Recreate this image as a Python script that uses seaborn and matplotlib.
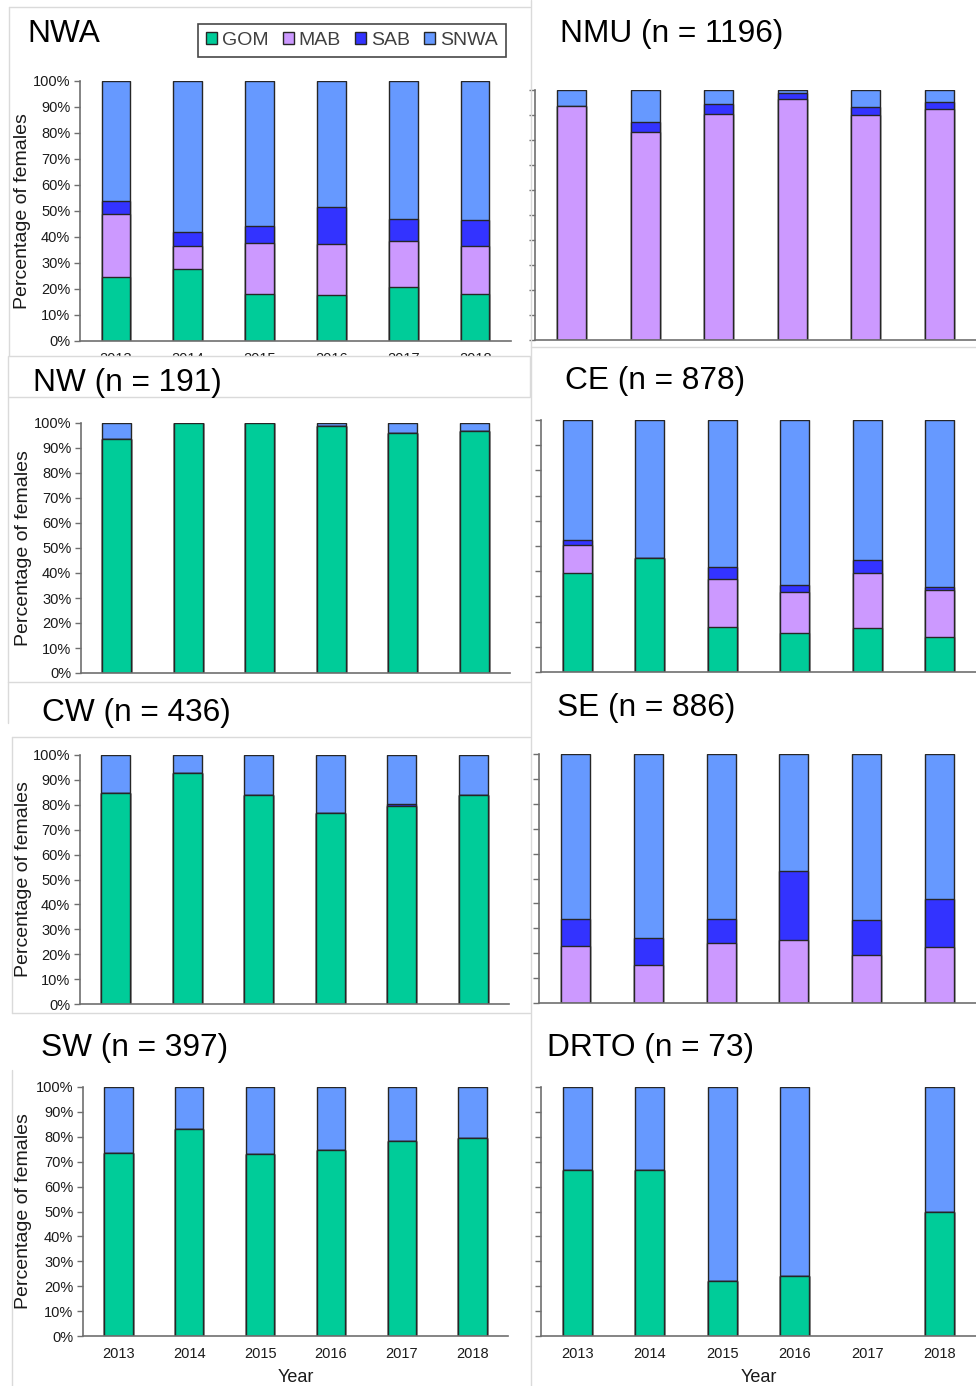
import matplotlib
matplotlib.use("Agg")
import matplotlib.pyplot as plt
import seaborn as sns
import numpy as np
import pandas as pd
from matplotlib.patches import Rectangle, Patch
from matplotlib.lines import Line2D

sns.set_theme(style="white")
plt.rcParams['font.family'] = ['Liberation Sans', 'DejaVu Sans']

W, H = 976, 1386

years = ["2013", "2014", "2015", "2016", "2017", "2018"]
stocks = ["GOM", "MAB", "SAB", "SNWA"]
stock_colors = {"GOM": "#00CC99", "MAB": "#CC99FF", "SAB": "#3333FF", "SNWA": "#6699FF"}

# Percentage of females assigned to each source stock, per year
nwa_gom = [24.5, 27.6, 18.2, 17.6, 20.6, 18.2]
nwa_mab = [24.5, 8.8, 19.4, 19.6, 17.7, 18.5]
nwa_sab = [4.8, 5.7, 6.5, 14.2, 8.5, 9.7]
nwa_snwa = [46.2, 57.9, 55.9, 48.6, 53.2, 53.6]

nmu_gom = [0, 0, 0, 0, 0, 0]
nmu_mab = [93.6, 83.3, 90.4, 96.4, 90.0, 92.5]
nmu_sab = [0, 4.1, 4.0, 2.4, 3.3, 2.7]
nmu_snwa = [6.4, 12.6, 5.6, 1.2, 6.7, 4.8]

nw_gom = [93.5, 100, 100, 98.7, 96.0, 96.9]
nw_mab = [0, 0, 0, 0, 0, 0]
nw_sab = [0, 0, 0, 0, 0, 0]
nw_snwa = [6.5, 0, 0, 1.3, 4.0, 3.1]

ce_gom = [39.2, 45.2, 18.0, 15.5, 17.6, 13.8]
ce_mab = [11.1, 0, 18.8, 16.4, 21.5, 18.7]
ce_sab = [2.2, 0, 4.7, 2.7, 5.3, 1.4]
ce_snwa = [47.5, 54.8, 58.5, 65.4, 55.6, 66.1]

cw_gom = [84.7, 92.8, 84.1, 76.7, 79.5, 83.8]
cw_mab = [0, 0, 0, 0, 0, 0]
cw_sab = [0, 0, 0, 0, 0.8, 0]
cw_snwa = [15.3, 7.2, 15.9, 23.3, 19.7, 16.2]

se_gom = [0, 0, 0, 0, 0, 0]
se_mab = [22.9, 15.4, 24.1, 25.3, 19.3, 22.5]
se_sab = [11.0, 10.7, 9.6, 27.7, 14.0, 19.1]
se_snwa = [66.1, 73.9, 66.3, 47.0, 66.7, 58.4]

sw_gom = [73.4, 83.0, 73.0, 74.6, 78.2, 79.4]
sw_mab = [0, 0, 0, 0, 0, 0]
sw_sab = [0, 0, 0, 0, 0, 0]
sw_snwa = [26.6, 17.0, 27.0, 25.4, 21.8, 20.6]

drto_gom = [66.7, 66.7, 22.2, 24.0, np.nan, 50.0]
drto_mab = [0, 0, 0, 0, np.nan, 0]
drto_sab = [0, 0, 0, 0, np.nan, 0]
drto_snwa = [33.3, 33.3, 77.8, 76.0, np.nan, 50.0]

panel_titles = ["NWA", "NMU (n = 1196)", "NW (n = 191)", "CE (n = 878)",
                "CW (n = 436)", "SE (n = 886)", "SW (n = 397)", "DRTO (n = 73)"]
panel_data = [
    (nwa_gom, nwa_mab, nwa_sab, nwa_snwa),
    (nmu_gom, nmu_mab, nmu_sab, nmu_snwa),
    (nw_gom, nw_mab, nw_sab, nw_snwa),
    (ce_gom, ce_mab, ce_sab, ce_snwa),
    (cw_gom, cw_mab, cw_sab, cw_snwa),
    (se_gom, se_mab, se_sab, se_snwa),
    (sw_gom, sw_mab, sw_sab, sw_snwa),
    (drto_gom, drto_mab, drto_sab, drto_snwa),
]

# Layout in pixels: axes (left, right, top=100%, bottom=0%), title anchor (x, y)
boxes = [
    (80, 511, 81, 341), (535, 976, 90, 340),
    (81, 510, 423, 673), (541, 976, 420, 672),
    (80, 509, 755, 1004), (539, 976, 754, 1003),
    (83, 508, 1087, 1336), (541, 976, 1087, 1336),
]
title_pos = [(27, 34), (560, 34), (33, 383), (565, 381),
             (42, 713), (557, 708), (41, 1048), (547, 1048)]

fig = plt.figure(figsize=(W / 100, H / 100), dpi=100)
fig.patch.set_facecolor("white")

AXIS_GRAY = "#6f6f6f"
BORDER = "#dadada"


def fx(x):
    return x / W


def fy(y):
    return 1 - y / H


def gray_line(x0, y0, x1, y1):
    fig.add_artist(Line2D([fx(x0), fx(x1)], [fy(y0), fy(y1)], transform=fig.transFigure,
                          color=BORDER, lw=1.0, zorder=0.5))


for i, (vals, (l, r, t, b)) in enumerate(zip(panel_data, boxes)):
    ax = fig.add_axes([fx(l), fy(b), (r - l) / W, (b - t) / H])
    df = pd.DataFrame({"year": years})
    running = np.zeros(len(years))
    for s, v in zip(stocks, vals):
        running = running + np.array(v, dtype=float)
        df[s] = running
    # Stacked bars: draw cumulative totals from the top segment down
    for s in reversed(stocks):
        sub = df[["year", s]].dropna()
        sns.barplot(data=sub, x="year", y=s, order=years, ax=ax, color=stock_colors[s],
                    saturation=1, width=0.4, edgecolor="#262626", linewidth=1.0,
                    errorbar=None)
    ax.set_xlim(-0.5, 5.5)
    ax.set_ylim(0, 100)
    ax.set_yticks(np.arange(0, 101, 10))
    left_col = (i % 2 == 0)
    ax.set_yticklabels([f"{v}%" for v in range(0, 101, 10)] if left_col else [])
    ax.tick_params(axis="y", direction="out", length=4, width=1, color=AXIS_GRAY,
                   labelsize=10.5, pad=3, left=True, labelcolor="#1a1a1a")
    ax.tick_params(axis="x", length=0, labelsize=10.5, pad=8, labelcolor="#1a1a1a")
    for sp in ("top", "right"):
        ax.spines[sp].set_visible(False)
    for sp in ("left", "bottom"):
        ax.spines[sp].set_color(AXIS_GRAY)
        ax.spines[sp].set_linewidth(1.2)
    ax.set_facecolor("none")
    ax.set_xlabel("")
    if left_col:
        ax.set_ylabel("Percentage of females", fontsize=14, color="#1a1a1a")
        ax.yaxis.set_label_coords((23 - l) / (r - l), 0.5)
        ax.yaxis.label.set_va("center")
    else:
        ax.set_ylabel("")
    if i in (0, 6, 7):
        ax.set_xticks(range(len(years)))
        ax.set_xticklabels(years)
    else:
        ax.set_xticklabels([])
    if i in (6, 7):
        ax.set_xlabel("Year", fontsize=13, color="#1a1a1a")
        ax.xaxis.set_label_coords(0.5, (b - 1369) / (b - t))
        ax.xaxis.label.set_va("top")
    tx, ty = title_pos[i]
    fig.text(fx(tx), fy(ty), panel_titles[i], fontsize=22.8, ha="left", va="center",
             color="black", zorder=5)

# Title box of the NW panel sits over the lower edge of the NWA panel
fig.add_artist(Rectangle((fx(8), fy(397)), fx(530) - fx(8), fy(355.5) - fy(397),
                         transform=fig.transFigure, facecolor="white", edgecolor=BORDER,
                         lw=1.0, zorder=2))

# Faint chart-area borders
gray_line(9, 7, 530, 7)
gray_line(9, 7, 9, 356)
gray_line(8, 397, 8, 682)
gray_line(8, 682, 530, 682)
gray_line(8, 682, 8, 723)
gray_line(12, 737, 530, 737)
gray_line(12, 737, 12, 1013)
gray_line(12, 1013, 530, 1013)
gray_line(12, 1070, 12, 1386)
gray_line(530.5, 0, 530.5, 1386)
gray_line(531, 347, 976, 347)

# Legend for the source stocks
handles = [Patch(facecolor=stock_colors[s], edgecolor="#262626", linewidth=1.0) for s in stocks]
leg = fig.legend(handles, stocks, loc="center", bbox_to_anchor=(fx(352), fy(40.5)),
                 bbox_transform=fig.transFigure, ncol=4, fontsize=14, frameon=True,
                 fancybox=False, edgecolor="#1a1a1a", handlelength=0.55, handleheight=0.55,
                 handletextpad=0.25, columnspacing=0.75, borderpad=0.4, borderaxespad=0)
leg.get_frame().set_linewidth(1.2)
for txt in leg.get_texts():
    txt.set_color("#404040")

fig.savefig("out.png", dpi=100, facecolor="white")
